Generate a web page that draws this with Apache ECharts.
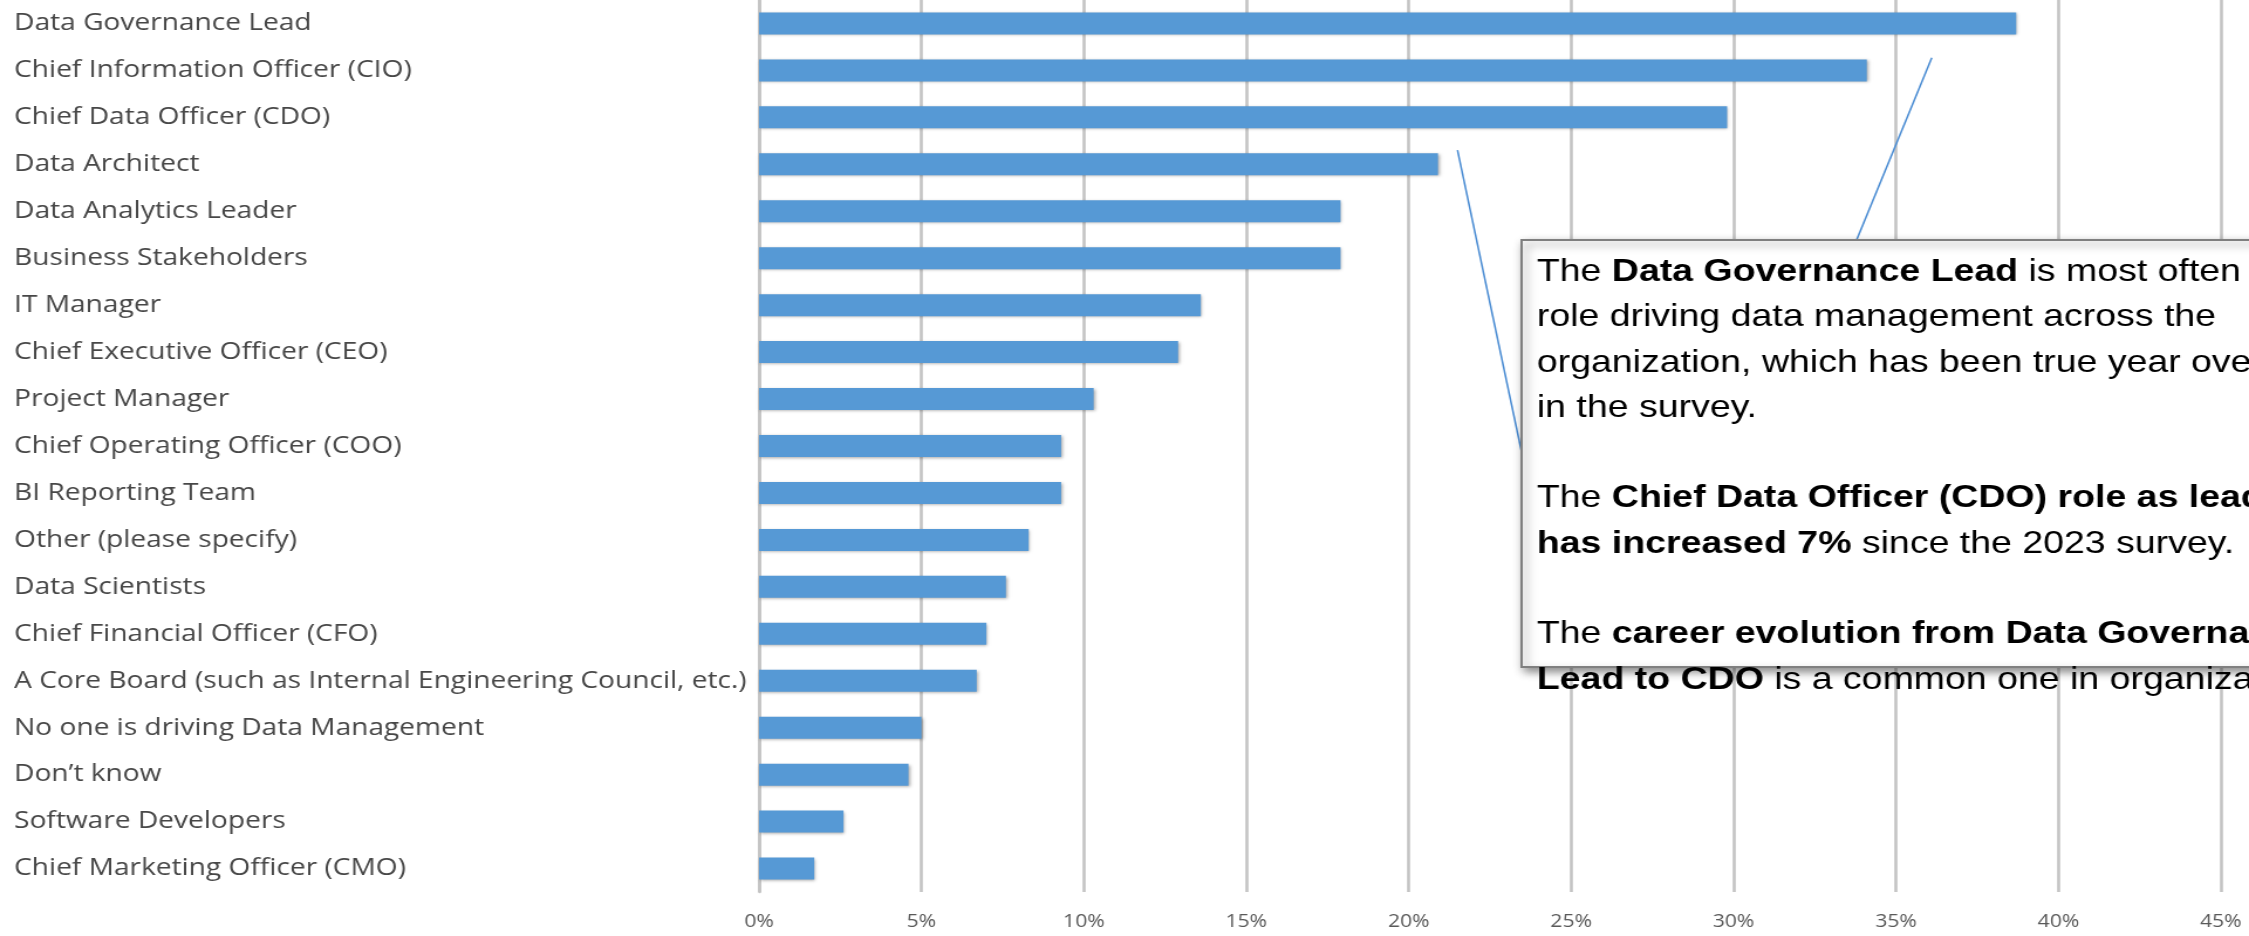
<!DOCTYPE html>
<html>
<head>
<meta charset="utf-8">
<title>Who drives data management</title>
<script src="https://cdn.jsdelivr.net/npm/echarts@6/dist/echarts.min.js"></script>
<style>
  html, body { margin: 0; padding: 0; background: #ffffff; overflow: hidden; }
  /* The chart is laid out at 1920 px and widened to fill the 2249 px page */
  #chart {
    width: 1920px;
    height: 936px;
    transform: scaleX(1.171354);
    transform-origin: 0 0;
  }
</style>
</head>
<body>
<div id="chart"></div>
<script>
// Roles, top to bottom
const roles = [
  'Data Governance Lead',
  'Chief Information Officer (CIO)',
  'Chief Data Officer (CDO)',
  'Data Architect',
  'Data Analytics Leader',
  'Business Stakeholders',
  'IT Manager',
  'Chief Executive Officer (CEO)',
  'Project Manager',
  'Chief Operating Officer (COO)',
  'BI Reporting Team',
  'Other (please specify)',
  'Data Scientists',
  'Chief Financial Officer (CFO)',
  'A Core Board (such as Internal Engineering Council, etc.)',
  'No one is driving Data Management',
  'Don\u2019t know',
  'Software Developers',
  'Chief Marketing Officer (CMO)'
];

// Share of respondents (%)
const shares = [38.7, 34.1, 29.8, 20.9, 17.9, 17.9, 13.6, 12.9, 10.3, 9.3, 9.3, 8.3, 7.6, 7.0, 6.7, 5.0, 4.6, 2.6, 1.7];

// Value axis ticks (%)
const tickMin = 0;
const tickMax = 45;
const tickStep = 5;

// Callout anchors: [value %, fractional row index] where each leader line starts
const calloutAnchors = [[36.1, 0.73], [21.5, 2.70]];

const chart = echarts.init(document.getElementById('chart'), null, { renderer: 'canvas' });

const labelFont = '"Open Sans", "Noto Sans", sans-serif';
const noteFont = '"Liberation Sans", Arial, sans-serif';

chart.setOption({
  animation: false,
  backgroundColor: '#ffffff',
  grid: { left: 648, right: 24, top: -4, bottom: 44, containLabel: false },
  xAxis: {
    type: 'value',
    min: tickMin,
    max: tickMax,
    interval: tickStep,
    axisLine: { show: false },
    axisTick: { show: false },
    splitLine: { show: true, lineStyle: { color: '#c4c4c4', width: 2.6 } },
    axisLabel: {
      formatter: '{value}%',
      color: '#595959',
      fontFamily: labelFont,
      fontSize: 18,
      margin: 21
    }
  },
  yAxis: {
    type: 'category',
    data: roles,
    inverse: true,
    axisLine: { show: true, lineStyle: { color: '#c4c4c4', width: 2.6 } },
    axisTick: { show: false },
    splitLine: { show: false },
    axisLabel: {
      align: 'left',
      margin: 636,
      color: '#474747',
      fontFamily: labelFont,
      fontSize: 24
    }
  },
  series: [{
    type: 'bar',
    data: shares,
    barWidth: 22,
    itemStyle: {
      color: '#5699d5',
      shadowColor: 'rgba(0,0,0,0.35)',
      shadowBlur: 3,
      shadowOffsetX: 1,
      shadowOffsetY: 1
    }
  }]
});

// Map a [value, fractional row] pair to pixels through the chart's own axes
function anchorToPixel(anchor) {
  const i0 = Math.floor(anchor[1]);
  const t = anchor[1] - i0;
  const p0 = chart.convertToPixel({ gridIndex: 0 }, [anchor[0], roles[i0]]);
  const p1 = chart.convertToPixel({ gridIndex: 0 }, [anchor[0], roles[i0 + 1]]);
  return [p0[0], p0[1] + (p1[1] - p0[1]) * t];
}

// Callout box geometry
const box = { x: 1299, y: 240, w: 700, h: 427 };
const lineEnds = [[1585, box.y], [box.x, 452]];

const noteSize = 32;
const noteLine = 45.3;
const noteStyle = { fontFamily: noteFont, fontSize: noteSize, lineHeight: noteLine, fill: '#000000' };
const noteText = [
  'The {b|Data Governance Lead} is most often the',
  'role driving data management across the',
  'organization, which has been true year over year',
  'in the survey.',
  '',
  'The {b|Chief Data Officer (CDO) role as lead}',
  '{b|has increased 7%} since the 2023 survey.',
  '',
  'The {b|career evolution from Data Governance}',
  '{b|Lead to CDO} is a common one in organizations.'
].join('\n');

const graphics = [];
calloutAnchors.forEach(function (a, k) {
  const s = anchorToPixel(a);
  graphics.push({
    type: 'line',
    z: 50,
    shape: { x1: s[0], y1: s[1], x2: lineEnds[k][0], y2: lineEnds[k][1] },
    style: { stroke: '#4a8cd3', lineWidth: 1.5 }
  });
});
graphics.push({
  type: 'rect',
  z: 60,
  shape: { x: box.x, y: box.y, width: box.w, height: box.h },
  style: {
    fill: '#ffffff',
    stroke: '#7f7f7f',
    lineWidth: 2,
    shadowColor: 'rgba(0,0,0,0.45)',
    shadowBlur: 8,
    shadowOffsetX: 3,
    shadowOffsetY: 4
  }
});
graphics.push({
  type: 'text',
  z: 70,
  x: 1312,
  y: 249.5,
  style: {
    text: noteText,
    fontFamily: noteFont,
    fontSize: noteSize,
    lineHeight: noteLine,
    fill: '#000000',
    verticalAlign: 'top',
    align: 'left',
    rich: {
      r: noteStyle,
      b: Object.assign({}, noteStyle, { fontWeight: 'bold' })
    }
  }
});

chart.setOption({ graphic: graphics });
</script>
</body>
</html>
